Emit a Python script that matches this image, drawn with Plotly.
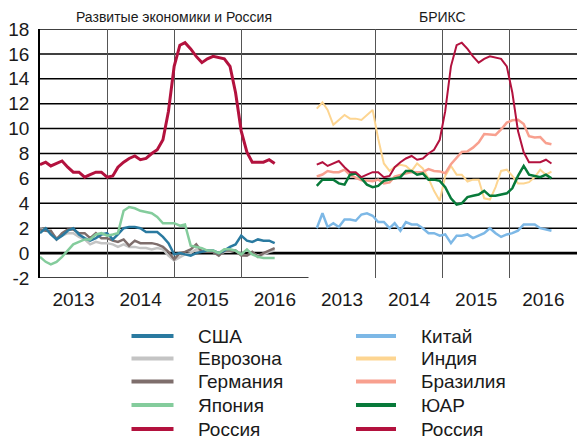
import pandas as pd
import plotly.graph_objects as go

# ---------------- data ----------------
months = pd.date_range("2013-01-01", periods=43, freq="MS")
brics_months = months + pd.Timedelta(days=45)

usa = [1.6, 2.0, 1.5, 1.1, 1.4, 1.8, 2.0, 1.5, 1.2, 1.0, 1.2, 1.5,
       1.6, 1.1, 1.5, 2.0, 2.1, 2.1, 2.0, 1.7, 1.7, 1.7, 1.3, 0.8,
       -0.1, 0.0, -0.1, -0.2, 0.0, 0.1, 0.2, 0.2, 0.0, 0.2, 0.5, 0.7,
       1.4, 1.0, 0.9, 1.1, 1.0, 1.0, 0.8]
eurozone = [2.0, 1.8, 1.7, 1.2, 1.4, 1.6, 1.6, 1.3, 1.1, 0.7, 0.9, 0.8,
            0.8, 0.7, 0.5, 0.7, 0.5, 0.5, 0.4, 0.4, 0.3, 0.4, 0.3, -0.2,
            -0.6, -0.3, -0.1, 0.0, 0.3, 0.2, 0.2, 0.1, -0.1, 0.1, 0.1, 0.2,
            -0.1, -0.2, 0.0, -0.2, -0.1, 0.1, 0.2]
germany = [1.9, 1.8, 1.8, 1.1, 1.6, 1.9, 1.9, 1.6, 1.6, 1.2, 1.6, 1.2,
           1.2, 1.0, 0.9, 1.1, 0.6, 1.0, 0.8, 0.8, 0.8, 0.7, 0.5, 0.1,
           -0.5, 0.0, 0.1, 0.3, 0.7, 0.1, 0.1, 0.1, -0.2, 0.2, 0.2, 0.2,
           -0.2, -0.2, 0.1, -0.3, 0.0, 0.2, 0.4]
japan = [-0.3, -0.7, -0.9, -0.7, -0.3, 0.2, 0.7, 0.9, 1.1, 1.1, 1.5, 1.6,
         1.4, 1.5, 1.6, 3.4, 3.7, 3.6, 3.4, 3.3, 3.2, 2.9, 2.4, 2.4,
         2.4, 2.2, 2.3, 0.6, 0.5, 0.4, 0.2, 0.2, 0.0, 0.3, 0.3, 0.2,
         -0.1, 0.3, -0.1, -0.3, -0.4, -0.4, -0.4]
russia = [7.1, 7.3, 7.0, 7.2, 7.4, 6.9, 6.5, 6.5, 6.1, 6.3, 6.5, 6.5,
          6.1, 6.2, 6.9, 7.3, 7.6, 7.8, 7.5, 7.6, 8.0, 8.3, 9.1, 11.4,
          15.0, 16.7, 16.9, 16.4, 15.8, 15.3, 15.6, 15.8, 15.7, 15.6, 15.0, 12.9,
          9.8, 8.1, 7.3, 7.3, 7.3, 7.5, 7.2]
china = [2.0, 3.2, 2.1, 2.4, 2.1, 2.7, 2.7, 2.6, 3.1, 3.2, 3.0, 2.5,
         2.5, 2.0, 2.4, 1.8, 2.5, 2.3, 2.3, 2.0, 1.6, 1.6, 1.4, 1.5,
         0.8, 1.4, 1.4, 1.5, 1.2, 1.4, 1.6, 2.0, 1.6, 1.3, 1.5, 1.6,
         1.8, 2.3, 2.3, 2.3, 2.0, 1.9, 1.8]
india = [11.6, 12.1, 11.5, 10.3, 10.7, 11.1, 10.8, 10.8, 10.7, 11.1, 11.5, 9.2,
         7.2, 6.6, 6.9, 7.1, 7.0, 6.6, 7.2, 6.8, 6.0, 5.0, 4.2, 6.2,
         7.0, 6.3, 6.3, 5.75, 5.9, 5.9, 4.4, 4.3, 5.3, 6.6, 6.7, 6.2,
         5.6, 5.6, 5.7, 6.1, 6.7, 6.3, 6.55]
brazil = [6.15, 6.31, 6.59, 6.49, 6.50, 6.70, 6.27, 6.09, 5.86, 5.84, 5.77, 5.91,
          5.59, 5.68, 6.15, 6.28, 6.37, 6.52, 6.50, 6.51, 6.75, 6.59, 6.56, 6.41,
          7.14, 7.70, 8.13, 8.17, 8.47, 8.89, 9.56, 9.53, 9.49, 9.93, 10.48, 10.67,
          10.71, 10.36, 9.39, 9.28, 9.32, 8.84, 8.74]
south_africa = [5.4, 5.9, 5.9, 5.9, 5.6, 5.5, 6.3, 6.4, 6.0, 5.5, 5.3, 5.4,
                5.8, 5.9, 6.0, 6.1, 6.6, 6.6, 6.3, 6.4, 5.9, 5.9, 5.8, 5.3,
                4.4, 3.9, 4.0, 4.5, 4.6, 4.7, 5.0, 4.6, 4.6, 4.7, 4.8, 5.2,
                6.2, 7.0, 6.3, 6.2, 6.1, 6.3, 6.0]

y_ticks = [-2, 0, 2, 4, 6, 8, 10, 12, 14, 16, 18]
panel_titles = ["Развитые экономики и Россия", "БРИКС"]

# (name, values, color, width) ; drawing order is the list order
left_series = [
    ("Еврозона", eurozone, "#c4c4c4", 2.5),
    ("Германия", germany, "#7e6e6c", 2.5),
    ("США", usa, "#2a7aa0", 2.5),
    ("Япония", japan, "#84cc9c", 2.5),
    ("Россия", russia, "#b3123e", 3),
]
right_series = [
    ("Индия", india, "#fdd591", 2),
    ("Бразилия", brazil, "#f8a08f", 2.5),
    ("Китай", china, "#7db8e6", 2.5),
    ("ЮАР", south_africa, "#087a3a", 2.5),
    ("Россия", russia, "#b3123e", 2),
]
left_legend = ["США", "Еврозона", "Германия", "Япония", "Россия"]
right_legend = ["Китай", "Индия", "Бразилия", "ЮАР", "Россия"]

FONT = "Liberation Sans Narrow, Liberation Sans, Arial, sans-serif"
TXT = "#1a1a1a"

fig = go.Figure()
for name, vals, col, w in left_series:
    fig.add_trace(go.Scatter(x=months, y=vals, mode="lines", name=name,
                             line=dict(color=col, width=w), xaxis="x", yaxis="y",
                             showlegend=False))
for name, vals, col, w in right_series:
    fig.add_trace(go.Scatter(x=brics_months, y=vals, mode="lines", name=name,
                             line=dict(color=col, width=w), xaxis="x2", yaxis="y2",
                             showlegend=False))

W, H = 577, 440
ML, MR, MT, MB = 40, 0, 29, 162
PW, PH = W - ML - MR, H - MT - MB


def px(x):
    return (x - ML) / PW


def py(y):
    return (H - MB - y) / PH


xcommon = dict(type="date", range=["2013-01-01", "2017-01-01"], dtick="M12",
               tick0="2013-01-01", ticklabelmode="period", tickformat="%Y",
               showgrid=True, gridcolor="#555555", gridwidth=1.3, ticks="",
               ticklabelstandoff=8, automargin=False, showline=False,
               tickfont=dict(family=FONT, size=19, color=TXT),
               zeroline=False, fixedrange=True)
fig.update_layout(
    width=W, height=H, margin=dict(l=ML, r=MR, t=MT, b=MB),
    paper_bgcolor="white", plot_bgcolor="rgba(0,0,0,0)",
    showlegend=False,
    xaxis=dict(domain=[0, 0.5], anchor="y", **xcommon),
    xaxis2=dict(domain=[0.5, 1], anchor="y2", **xcommon),
    yaxis=dict(range=[-2, 18], tickvals=y_ticks, ticktext=[str(v) for v in y_ticks],
               showgrid=False, zeroline=False, automargin=False,
               showline=True, linecolor="black", linewidth=1.5, ticks="",
               ticklabelstandoff=5,
               tickfont=dict(family=FONT, size=19, color=TXT), fixedrange=True),
    yaxis2=dict(range=[-2, 18], anchor="x2", showticklabels=False, showgrid=False,
                zeroline=False, showline=False, ticks="", automargin=False,
                fixedrange=True),
)

# horizontal grid lines spanning both panels
for v in y_ticks[1:]:
    fig.add_shape(type="line", xref="paper", yref="y", x0=0, x1=1, y0=v, y1=v,
                  layer="below", line=dict(color="black", width=2.6 if v == 0 else 1.5))
# bottom line of the left panel only
fig.add_shape(type="line", xref="x domain", yref="y", x0=0, x1=1,
              y0=y_ticks[0], y1=y_ticks[0], layer="below",
              line=dict(color="black", width=1.5))

# panel titles
for i, t in enumerate(panel_titles):
    fig.add_annotation(text=t, xref="paper", yref="paper", x=0.25 + 0.5 * i,
                       y=py(17), xanchor="center", yanchor="middle", showarrow=False,
                       font=dict(family=FONT, size=14, color=TXT))

# manual legend (two columns)
colors = {n: c for n, v, c, w in left_series}
colors_r = {n: c for n, v, c, w in right_series}
row_y = [336, 358.5, 381.5, 405, 429]
for col_names, cmap, lx0, lx1, tx in [(left_legend, colors, 131.5, 173.5, 196),
                                      (right_legend, colors_r, 356, 396, 419)]:
    for name, yy in zip(col_names, row_y):
        fig.add_shape(type="line", xref="paper", yref="paper",
                      x0=px(lx0), x1=px(lx1), y0=py(yy), y1=py(yy),
                      line=dict(color=cmap[name], width=4))
        fig.add_annotation(text=name, xref="paper", yref="paper", x=px(tx), y=py(yy),
                           xanchor="left", yanchor="middle", showarrow=False,
                           font=dict(family=FONT, size=19, color=TXT))

fig.write_html("out.html", config={"displayModeBar": False},
               post_script="document.body.style.margin='0';"
                           "document.body.style.overflow='hidden';")
